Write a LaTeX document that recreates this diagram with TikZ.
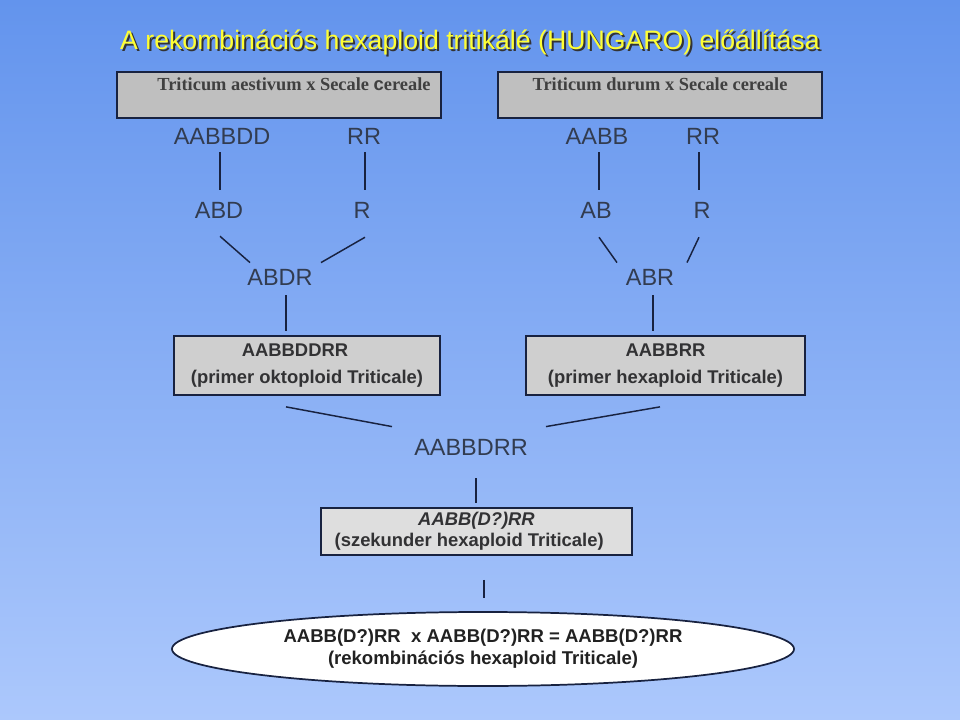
\documentclass[tikz,border=0pt]{standalone}
\usepackage{fontspec}
\setmainfont{Liberation Serif}
\setsansfont{Liberation Sans}
\usetikzlibrary{shapes.geometric,calc}
\definecolor{bgtop}{RGB}{99,148,237}
\definecolor{bgbot}{RGB}{172,200,252}
\definecolor{genink}{RGB}{50,60,80}
\definecolor{boxink}{RGB}{50,50,52}
\definecolor{lineink}{RGB}{24,34,64}
\definecolor{titleyellow}{RGB}{255,255,51}

\begin{document}
\begin{tikzpicture}[x=0.75pt,y=-0.75pt,
  genome/.style={anchor=base,inner sep=0pt,text=genink,font=\sffamily\fontsize{17.6}{20}\selectfont},
  link/.style={draw=lineink,line width=1.1pt},
  parentbox/.style={draw=lineink,line width=1.4pt,fill=black!25,minimum width=243pt,minimum height=34.5pt,inner sep=0pt},
  parentname/.style={anchor=base,inner sep=0pt,text=black!75,font=\rmfamily\bfseries\fontsize{13.8}{16}\selectfont},
  hybridbox/.style={draw=lineink,line width=1.3pt,inner sep=0pt,align=center,text=boxink,font=\sffamily\bfseries\fontsize{13.8}{20.25}\selectfont}]
\useasboundingbox (0,0) rectangle (960,720);
\shade[top color=bgtop,bottom color=bgbot] (0,0) rectangle (960,720);
% title with its shadow
\node[anchor=base,inner sep=0pt,text=black!80,font=\sffamily\fontsize{20}{24}\selectfont] (titleshadow) at (472,52) {A rekombinációs hexaploid tritikálé (HUNGARO) előállítása};
\node[anchor=base,inner sep=0pt,text=titleyellow,font=\sffamily\fontsize{20}{24}\selectfont] (title) at (470,50) {A rekombinációs hexaploid tritikálé (HUNGARO) előállítása};
% the two crosses
\node[parentbox] (aestbox) at (279,95) {};
\node[parentbox] (durumbox) at (660,95) {};
\node[parentname] (aest) at (294,91) {Triticum aestivum x Secale {\sffamily c}ereale};
\node[parentname] (durum) at (660,91) {Triticum durum x Secale cereale};
% genomes and gametes
\node[genome] (aabbdd) at (222,145) {AABBDD};
\node[genome] (rrL) at (364,145) {RR};
\node[genome] (aabb) at (597,145) {AABB};
\node[genome] (rrR) at (703,145) {RR};
\node[genome] (abd) at (219,219) {ABD};
\node[genome] (rL) at (362,219) {R};
\node[genome] (ab) at (596,219) {AB};
\node[genome] (rR) at (702,219) {R};
\node[genome] (abdr) at (280,286) {ABDR};
\node[genome] (abr) at (650,286) {ABR};
\draw[link] ($(aabbdd.south)+(-2,7)$) -- ($(abd.north)+(1,-13)$);
\draw[link] ($(rrL.south)+(1,7)$) -- ($(rL.north)+(3,-13)$);
\draw[link] ($(aabb.south)+(2,7)$) -- ($(ab.north)+(3,-13)$);
\draw[link] ($(rrR.south)+(-4,7)$) -- ($(rR.north)+(-3,-13)$);
\draw[link] ($(abd.south)+(1,17)$) -- ($(abdr.north)+(-30,-7)$);
\draw[link] ($(rL.south)+(3,18)$) -- ($(abdr.north)+(41,-7)$);
\draw[link] ($(ab.south)+(3,18)$) -- ($(abr.north)+(-33,-7)$);
\draw[link] ($(rR.south)+(-3,18)$) -- ($(abr.north)+(37,-7)$);
% primary triticales
\node[hybridbox,fill=black!19,minimum width=199.5pt,minimum height=44.25pt] (okto) at (307,365.5) {AABBDDRR\hspace*{18pt}\\(primer oktoploid Triticale)};
\node[hybridbox,fill=black!19,minimum width=209.25pt,minimum height=44.25pt] (hexa) at (665.5,365.5) {AABBRR\\(primer hexaploid Triticale)};
\draw[link] ($(abdr.south)+(6,9)$) -- ($(okto.north)+(-21,-4)$);
\draw[link] ($(abr.south)+(3,9)$) -- ($(hexa.north)+(-12.5,-4)$);
\node[genome] (aabbdrr) at (471,455) {AABBDRR};
\draw[link] ($(okto.south)+(-21,11)$) -- ($(aabbdrr.north)+(-79,-12)$);
\draw[link] ($(hexa.south)+(-5.5,11)$) -- ($(aabbdrr.north)+(75,-12)$);
% secondary and recombinant triticale
\node[hybridbox,fill=black!13,minimum width=233.25pt,minimum height=35.25pt,font=\sffamily\bfseries\fontsize{13.8}{15.75}\selectfont] (szek) at (476.5,531.5) {\textit{AABB(D?)RR}\\(szekunder hexaploid Triticale)\hspace*{11pt}};
\draw[link] ($(aabbdrr.south)+(5,23)$) -- ($(szek.north)+(-0.5,-4)$);
\node[ellipse,draw=lineink,line width=1.3pt,fill=white,inner sep=0pt,minimum width=466.5pt,minimum height=55.5pt,align=center,text=black!87,font=\sffamily\bfseries\fontsize{13.9}{16.5}\selectfont] (rekomb) at (483,649) {AABB(D?)RR\ \ x AABB(D?)RR = AABB(D?)RR\\(rekombinációs hexaploid Triticale)};
\draw[link] ($(szek.south)+(7.5,24)$) -- ($(rekomb.north)+(1,-13)$);
\end{tikzpicture}
\end{document}
